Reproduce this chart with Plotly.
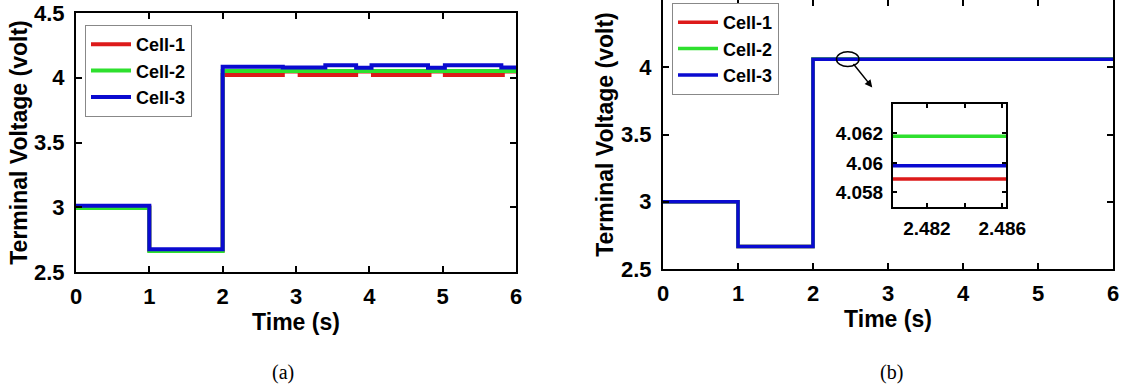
import plotly.graph_objects as go

# ---------------- data ----------------
# (a) left panel: step-wise terminal voltages
cell1_a_t = [0, 1, 2, 2.82, 3.05, 3.82, 4.05, 4.82, 5.03, 5.82, 6]
cell1_a_v = [3.0, 2.668, 4.021, 4.048, 4.021, 4.048, 4.021, 4.048, 4.021, 4.048, 4.048]
cell2_a_t = [0, 1, 2, 6]
cell2_a_v = [2.994, 2.662, 4.052, 4.052]
cell3_a_t = [0, 1, 2, 2.82, 3.4, 3.82, 4.03, 4.8, 5.03, 5.8, 6]
cell3_a_v = [3.012, 2.675, 4.085, 4.08, 4.096, 4.078, 4.096, 4.078, 4.096, 4.08, 4.08]

# (b) right panel: balanced cells
cell_b_t = [0, 1, 2, 6]
cell1_b_v = [3.0, 2.668, 4.0589, 4.0589]
cell2_b_v = [3.0, 2.668, 4.0618, 4.0618]
cell3_b_v = [3.0, 2.668, 4.0598, 4.0598]

names = ["Cell-1", "Cell-2", "Cell-3"]
colors = ["#dd1a1a", "#2ee02e", "#0a0ad0"]

x_ticks = [0, 1, 2, 3, 4, 5, 6]
y_ticks = [2.5, 3, 3.5, 4, 4.5]
y_ticktext = ["2.5", "3", "3.5", "4", "4.5"]
inset_x_ticks = [2.482, 2.484, 2.486]
inset_x_text = ["2.482", "", "2.486"]
inset_y_ticks = [4.058, 4.06, 4.062]
inset_y_text = ["4.058", "4.06", "4.062"]
inset_x_range = [2.4802, 2.4862]
inset_y_range = [4.057, 4.064]

# ---------------- figure ----------------
W, H = 1121, 387
FONT = "Liberation Sans, Arial, sans-serif"
fig = go.Figure()

for t, v, n, c in zip([cell1_a_t, cell2_a_t, cell3_a_t],
                      [cell1_a_v, cell2_a_v, cell3_a_v], names, colors):
    fig.add_trace(go.Scatter(x=t, y=v, name=n, mode="lines",
                             line=dict(color=c, width=4, shape="hv"),
                             xaxis="x", yaxis="y", legend="legend"))

for v, n, c in zip([cell1_b_v, cell2_b_v, cell3_b_v], names, colors):
    fig.add_trace(go.Scatter(x=cell_b_t, y=v, name=n, mode="lines",
                             line=dict(color=c, width=3.5, shape="hv"),
                             xaxis="x2", yaxis="y2", legend="legend2"))

for v, n, c in zip([cell1_b_v, cell2_b_v, cell3_b_v], names, colors):
    fig.add_trace(go.Scatter(x=cell_b_t, y=v, name=n, mode="lines",
                             line=dict(color=c, width=3.5, shape="hv"),
                             xaxis="x3", yaxis="y3", showlegend=False))

tickfont = dict(family=FONT, size=22, color="black", weight="bold")
titlefont = dict(family=FONT, size=23, color="black", weight="bold")
insetfont = dict(family=FONT, size=19, color="black", weight="bold")
legfont = dict(family=FONT, size=18, color="black", weight="bold")

def px_x(p):
    return p / W

def px_y(p):
    return 1 - p / H

common = dict(showline=True, linecolor="black", linewidth=2, mirror="ticks",
              ticks="inside", ticklen=6, tickwidth=2, tickcolor="black",
              showgrid=False, zeroline=False, tickfont=tickfont, automargin=False)

fig.update_layout(
    width=W, height=H, margin=dict(l=0, r=0, t=0, b=0, autoexpand=False),
    paper_bgcolor="white", plot_bgcolor="white", showlegend=True,
    xaxis=dict(domain=[px_x(76), px_x(516)], range=[0, 6], tickvals=x_ticks,
               anchor="y", ticklabelstandoff=4,
               title=dict(text="Time (s)", font=titlefont, standoff=4), **common),
    yaxis=dict(domain=[px_y(272), px_y(13)], range=[2.5, 4.5], tickvals=y_ticks,
               ticktext=y_ticktext, anchor="x", ticklabelstandoff=5,
               title=dict(text="Terminal Voltage (volt)", font=titlefont, standoff=0),
               **common),
    xaxis2=dict(domain=[px_x(663), px_x(1113)], range=[0, 6], tickvals=x_ticks,
                anchor="y2", ticklabelstandoff=4,
                title=dict(text="Time (s)", font=titlefont, standoff=4), **common),
    yaxis2=dict(domain=[px_y(269), 1.0], range=[2.5, 4.5], tickvals=y_ticks,
                ticktext=y_ticktext, anchor="x2", ticklabelstandoff=5,
                title=dict(text="Terminal Voltage (volt)", font=titlefont, standoff=1),
                **common),
    xaxis3=dict(domain=[px_x(893), px_x(1006)], range=inset_x_range,
                tickvals=inset_x_ticks, ticktext=inset_x_text, anchor="y3",
                ticklabelstandoff=3,
                **{**common, "tickfont": insetfont, "ticklen": 4, "tickwidth": 1.5}),
    yaxis3=dict(domain=[px_y(207), px_y(104)], range=inset_y_range,
                tickvals=inset_y_ticks, ticktext=inset_y_text, anchor="x3",
                ticklabelstandoff=4,
                **{**common, "tickfont": insetfont, "ticklen": 4, "tickwidth": 1.5}),
    legend=dict(x=px_x(85), y=px_y(25), xanchor="left", yanchor="top",
                bgcolor="white", bordercolor="#888888", borderwidth=1,
                font=legfont, tracegroupgap=0, itemwidth=40),
    legend2=dict(x=px_x(672), y=px_y(3), xanchor="left", yanchor="top",
                 bgcolor="white", bordercolor="#888888", borderwidth=1,
                 font=legfont, tracegroupgap=0, itemwidth=40),
)

# zoom marker ellipse around the region shown in the inset
t_mid = sum(inset_x_range) / 2
v_mid = cell3_b_v[2]
fig.add_shape(type="circle", xref="x2", yref="y2",
              x0=t_mid - 0.17, x1=t_mid + 0.13, y0=v_mid - 0.055, y1=v_mid + 0.055,
              line=dict(color="black", width=1.5))
fig.add_annotation(xref="x2", yref="y2", x=2.79, y=3.85, ax=-20, ay=-25,
                   text="", showarrow=True, arrowhead=2, arrowsize=1,
                   arrowwidth=1.5, arrowcolor="black")

serif = dict(family="Liberation Serif, Times New Roman, serif", size=20, color="black")
fig.add_annotation(xref="paper", yref="paper", x=px_x(283), y=px_y(372), text="(a)",
                   showarrow=False, font=serif, xanchor="center", yanchor="middle")
fig.add_annotation(xref="paper", yref="paper", x=px_x(892), y=px_y(372), text="(b)",
                   showarrow=False, font=serif, xanchor="center", yanchor="middle")

fig.write_html("out.html")
